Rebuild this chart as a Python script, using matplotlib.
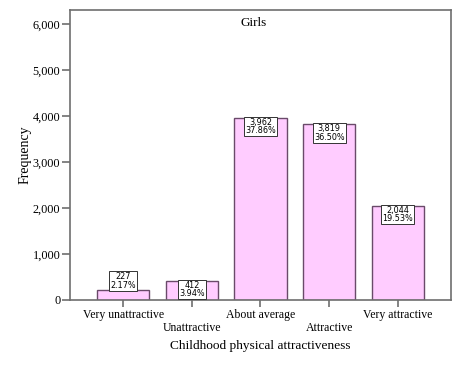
import matplotlib
matplotlib.use("Agg")
import matplotlib.pyplot as plt

categories = ["Very unattractive", "Unattractive", "About average", "Attractive", "Very attractive"]
counts = [227, 412, 3962, 3819, 2044]
percents = ["2.17%", "3.94%", "37.86%", "36.50%", "19.53%"]
yticks = [0, 1000, 2000, 3000, 4000, 5000, 6000]

W, H = 460, 368
fig = plt.figure(figsize=(W / 100, H / 100), dpi=100)
ax = fig.add_axes([70 / W, 1 - 300 / H, (451 - 70) / W, (300 - 10) / H])

serif = "Liberation Serif"
spine_c = "#6e6e6e"
x = list(range(len(categories)))
ax.bar(x, counts, width=0.76, color="#ffccff", edgecolor="#6a4a6a", linewidth=1.0, zorder=2)
ax.set_xlim(-0.775, 4.775)
ax.set_ylim(0, 6300)
ax.set_yticks(yticks)
ax.set_yticklabels([f"{v:,}" for v in yticks], fontfamily=serif, fontsize=8.8)
ax.set_xticks(x)
ax.set_xticklabels(categories, fontfamily=serif, fontsize=8.5)
for s in ax.spines.values():
    s.set_color(spine_c)
    s.set_linewidth(1.2)
ax.tick_params(axis="both", color=spine_c, length=5, width=1.2, direction="out")
ax.tick_params(axis="y", length=6, pad=1)
ax.tick_params(axis="x", pad=1.5)
ticks = ax.xaxis.get_major_ticks()
for i, t in enumerate(ticks):
    if i % 2 == 1:
        t.tick1line.set_markersize(14)
        t.set_pad(10.5)

ax.set_xlabel("Childhood physical attractiveness", fontfamily=serif, fontsize=9.6, labelpad=5)
ax.set_ylabel("Frequency", fontfamily=serif, fontsize=10)
ax.yaxis.set_label_coords(-0.102, 0.5)
ax.text(0.483, 0.975, "Girls", transform=ax.transAxes, ha="center", va="top",
        fontfamily=serif, fontsize=9.5)

for xi, c, p in zip(x, counts, percents):
    va = "top" if c > 300 else "bottom"
    ax.text(xi, c, f"{c:,}\n{p}", ha="center", va=va, fontsize=6.5, fontfamily="DejaVu Sans",
            fontstretch="condensed", linespacing=0.9, zorder=3,
            bbox=dict(boxstyle="square,pad=0.12", facecolor="white", edgecolor="#333333", linewidth=0.7))

fig.savefig("out.png", dpi=100)
